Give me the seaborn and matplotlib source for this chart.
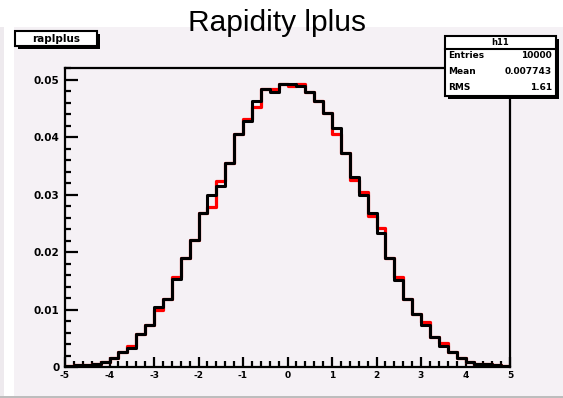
import numpy as np
import pandas as pd
import matplotlib
matplotlib.use("Agg")
import matplotlib.pyplot as plt
import seaborn as sns
from matplotlib.patches import Rectangle
from matplotlib.ticker import MultipleLocator, FuncFormatter
from matplotlib.lines import Line2D

# ---------------- data ----------------
x_min, x_max, n_bins = -5.0, 5.0, 50

black_vals = [0.0002, 0.0003, 0.0004, 0.0006, 0.0009, 0.0015, 0.0026, 0.0033, 0.0057, 0.0073,
              0.0104, 0.0119, 0.0153, 0.0189, 0.0221, 0.0267, 0.0299, 0.0315, 0.0354, 0.0405,
              0.0427, 0.0462, 0.0483, 0.0478, 0.0493, 0.0493, 0.0489, 0.0478, 0.0462, 0.0442,
              0.0415, 0.0373, 0.0331, 0.0299, 0.0267, 0.0233, 0.0189, 0.0151, 0.0119, 0.0093,
              0.0073, 0.0053, 0.0037, 0.0026, 0.0015, 0.0009, 0.0006, 0.0005, 0.0003, 0.0002]

red_vals = [0.0002, 0.0003, 0.0004, 0.0006, 0.0009, 0.0015, 0.0026, 0.0037, 0.0057, 0.0073,
            0.0099, 0.0119, 0.0156, 0.0189, 0.0221, 0.0267, 0.0279, 0.0324, 0.0354, 0.0405,
            0.0431, 0.0452, 0.0483, 0.0483, 0.0493, 0.0489, 0.0493, 0.0478, 0.0462, 0.0442,
            0.0405, 0.0373, 0.0325, 0.0304, 0.0263, 0.0241, 0.0189, 0.0156, 0.0119, 0.0093,
            0.0078, 0.0053, 0.0041, 0.0026, 0.0015, 0.0009, 0.0006, 0.0005, 0.0003, 0.0002]

x_ticks = [-5, -4, -3, -2, -1, 0, 1, 2, 3, 4, 5]
y_ticks = [0, 0.01, 0.02, 0.03, 0.04, 0.05]

title_text = "Rapidity lplus"
pave_title = "raplplus"
stats_title = "h11"
stats_rows = [("Entries", "10000"), ("Mean", "0.007743"), ("RMS", "1.61")]

# ---------------- figure ----------------
W, H = 563, 398
DPI = 100
PAD_COLOR = "#f5f1f5"

def fx(px):
    return px / W

def fy(py):
    return 1 - py / H

fig = plt.figure(figsize=(W / DPI, H / DPI), dpi=DPI, facecolor="white")

# pad background
fig.patches.append(Rectangle((fx(0), fy(396)), fx(4), (396 - 27) / H, transform=fig.transFigure,
                             facecolor="#eeeaee", edgecolor="none", zorder=-3))
fig.patches.append(Rectangle((fx(14), fy(396)), 1 - fx(14), (396 - 27) / H, transform=fig.transFigure,
                             facecolor=PAD_COLOR, edgecolor="none", zorder=-3))
fig.lines.append(Line2D([0, 1], [fy(396.5), fy(396.5)], transform=fig.transFigure,
                        color="#b0b0b0", linewidth=1.2, zorder=-2))

# axes frame
left, right, top, bottom = 65, 510, 68, 367
ax = fig.add_axes([fx(left), fy(bottom), (right - left) / W, (bottom - top) / H])
ax.set_facecolor(PAD_COLOR)

bin_w = (x_max - x_min) / n_bins
centers = x_min + bin_w * (np.arange(n_bins) + 0.5)
df = pd.DataFrame({"x": centers, "black": black_vals, "red": red_vals})

sns.histplot(data=df, x="x", weights="red", bins=n_bins, binrange=(x_min, x_max),
             element="step", fill=False, color="#ff0000", linewidth=2.3, ax=ax)
sns.histplot(data=df, x="x", weights="black", bins=n_bins, binrange=(x_min, x_max),
             element="step", fill=False, color="black", linewidth=2.2, ax=ax)

ax.set_xlim(x_min, x_max)
ax.set_ylim(0, 0.052)
ax.set_xlabel("")
ax.set_ylabel("")
ax.grid(False)

for s in ax.spines.values():
    s.set_color("black")
    s.set_linewidth(1.6)

ax.set_xticks(x_ticks)
ax.set_yticks(y_ticks)
ax.xaxis.set_minor_locator(MultipleLocator(0.2))
ax.yaxis.set_minor_locator(MultipleLocator(0.002))
ax.yaxis.set_major_formatter(FuncFormatter(lambda v, p: "0" if abs(v) < 1e-9 else f"{v:.2f}"))
ax.xaxis.set_major_formatter(FuncFormatter(lambda v, p: f"{int(round(v))}"))

ax.tick_params(axis="y", which="major", direction="in", length=9, width=1.6, pad=4,
               labelsize=7.5, colors="black", right=False)
ax.tick_params(axis="y", which="minor", direction="in", length=4.5, width=1.6, right=False)
ax.tick_params(axis="x", which="major", direction="in", length=7.5, width=1.6, pad=3,
               labelsize=6.5, colors="black", top=False)
ax.tick_params(axis="x", which="minor", direction="in", length=4, width=1.6, top=False)
for lab in ax.get_yticklabels() + ax.get_xticklabels():
    lab.set_fontweight("bold")

# main title
fig.text(fx(277), fy(31), title_text, ha="center", va="baseline",
         fontsize=21.5, family=["Liberation Sans", "DejaVu Sans"], color="black", zorder=10)

# title pave (top-left) with shadow
def box(x0, y0, x1, y1, shadow=3):
    fig.patches.append(Rectangle((fx(x0 + shadow), fy(y1 + shadow)), (x1 - x0) / W, (y1 - y0) / H,
                                 transform=fig.transFigure, facecolor="black", edgecolor="black",
                                 linewidth=0, zorder=5))
    fig.patches.append(Rectangle((fx(x0), fy(y1)), (x1 - x0) / W, (y1 - y0) / H,
                                 transform=fig.transFigure, facecolor="white", edgecolor="black",
                                 linewidth=1.5, zorder=6))

box(15, 31, 97, 46)
fig.text(fx(56), fy(38.5), pave_title, ha="center", va="center", fontsize=7.5,
         fontweight="bold", color="black", zorder=7)

# stats box
box(445, 36, 556, 96)
fig.lines.append(Line2D([fx(445), fx(556)], [fy(49), fy(49)], transform=fig.transFigure,
                        color="black", linewidth=1.5, zorder=7))
fig.text(fx(500), fy(42.5), stats_title, ha="center", va="center", fontsize=6,
         fontweight="bold", color="black", zorder=7)
row_y = [55, 71.5, 87]
for (lab, val), yy in zip(stats_rows, row_y):
    fig.text(fx(448), fy(yy), lab, ha="left", va="center", fontsize=6.5,
             fontweight="bold", color="black", zorder=7)
    fig.text(fx(552), fy(yy), val, ha="right", va="center", fontsize=6.5,
             fontweight="bold", color="black", zorder=7)

fig.savefig("out.png", dpi=DPI, facecolor=fig.get_facecolor())
